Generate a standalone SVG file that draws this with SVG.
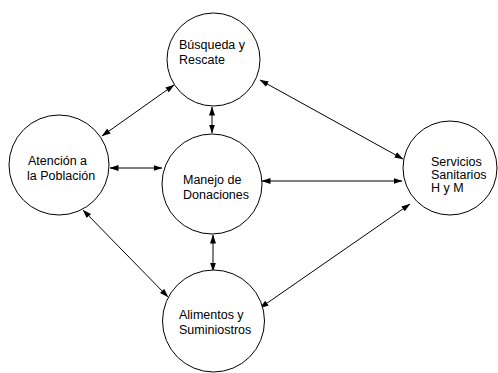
<svg xmlns="http://www.w3.org/2000/svg" width="498" height="373" viewBox="0 0 498 373">
<style>
.node circle{fill:#fff;stroke:#000;stroke-width:1}
.node text{font-family:"Liberation Sans",Arial,sans-serif;font-size:12.5px;fill:#000}
.conn line{stroke:#000;stroke-width:1;marker-start:url(#ah);marker-end:url(#ah)}
</style>
<defs>
<marker id="ah" markerUnits="userSpaceOnUse" markerWidth="9" markerHeight="7" refX="8.5" refY="3" orient="auto-start-reverse" viewBox="0 0 9 6">
<path d="M0,0 L9,3 L0,6 z" fill="#000"/>
</marker>
</defs>
<rect width="498" height="373" fill="#fff"/>
<g id="connectors" class="conn">
<line x1="174" y1="85" x2="102" y2="136"/>
<line x1="212" y1="107" x2="212" y2="133"/>
<line x1="260" y1="80" x2="403" y2="159"/>
<line x1="110" y1="168" x2="162" y2="168"/>
<line x1="262" y1="181" x2="402" y2="181"/>
<line x1="83" y1="210" x2="168" y2="297"/>
<line x1="213" y1="235" x2="213" y2="271"/>
<line x1="260" y1="308" x2="410" y2="204"/>
</g>
<g id="busqueda" class="node">
<circle cx="213.5" cy="59.5" r="46.5"/>
<text x="179" y="49">Búsqueda y</text>
<text x="179" y="64">Rescate</text>
</g>
<g id="atencion" class="node">
<circle cx="59" cy="165" r="50"/>
<text x="28" y="165">Atención a</text>
<text x="27" y="180">la Población</text>
</g>
<g id="manejo" class="node">
<circle cx="212" cy="184" r="50"/>
<text x="183" y="184">Manejo de</text>
<text x="183" y="199">Donaciones</text>
</g>
<g id="servicios" class="node">
<circle cx="450" cy="168" r="47"/>
<text x="431" y="166">Servicios</text>
<text x="431" y="179">Sanitarios</text>
<text x="431" y="192">H y M</text>
</g>
<g id="alimentos" class="node">
<circle cx="213.5" cy="321" r="51"/>
<text x="179" y="319">Alimentos y</text>
<text x="179" y="334">Suminiostros</text>
</g>
</svg>
